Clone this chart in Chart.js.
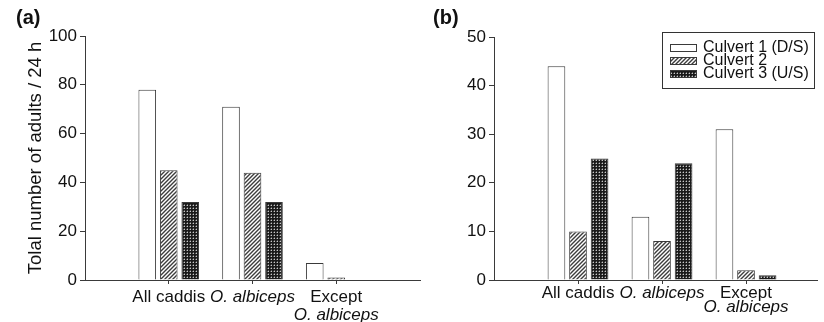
<!DOCTYPE html>
<html>
<head>
<meta charset="utf-8">
<script src="https://cdn.jsdelivr.net/npm/chart.js@4/dist/chart.umd.min.js"></script>
<style>
  html, body { margin: 0; padding: 0; background: #fff; }
  #wrap { position: relative; width: 824px; height: 322px; }
  #pa { position: absolute; left: 0; top: 0; width: 424px; height: 322px; }
  #pb { position: absolute; left: 424px; top: 0; width: 400px; height: 322px; }
</style>
</head>
<body>
<div id="wrap">
  <div id="pa"><canvas id="ca" width="424" height="322"></canvas></div>
  <div id="pb"><canvas id="cb" width="400" height="322"></canvas></div>
</div>
<script>
// ---------- data ----------
const categoryLabels = [['All caddis'], ['O. albiceps'], ['Except', 'O. albiceps']];
const italicTerms = ['O. albiceps'];
const categoryPositions = [1, 2, 3];
const seriesNames = ['Culvert 1 (D/S)', 'Culvert 2', 'Culvert 3 (U/S)'];

const panelA_culvert1 = [78, 71, 7];
const panelA_culvert2 = [45, 44, 1];
const panelA_culvert3 = [32, 32, 0];

const panelB_culvert1 = [44, 13, 31];
const panelB_culvert2 = [10, 8, 2];
const panelB_culvert3 = [25, 24, 1];

const panelA_yTicks = [0, 20, 40, 60, 80, 100];
const panelB_yTicks = [0, 10, 20, 30, 40, 50];
const yTitle = 'Tolal number of adults / 24 h';

// ---------- styles ----------
const FONT = "'Liberation Sans', Arial, sans-serif";
const AXIS = '#3a3a3a';

function hatchPattern() {
  const c = document.createElement('canvas');
  c.width = 4; c.height = 4;
  const g = c.getContext('2d');
  g.fillStyle = '#ffffff'; g.fillRect(0, 0, 4, 4);
  g.strokeStyle = '#3c3c3c'; g.lineWidth = 1.4;
  g.beginPath();
  g.moveTo(-1, 5); g.lineTo(5, -1);
  g.moveTo(-1, 1); g.lineTo(1, -1);
  g.moveTo(3, 5); g.lineTo(5, 3);
  g.stroke();
  return g.createPattern(c, 'repeat');
}
function dotPattern() {
  const c = document.createElement('canvas');
  c.width = 3; c.height = 3;
  const g = c.getContext('2d');
  g.fillStyle = '#1a1a1a'; g.fillRect(0, 0, 3, 3);
  g.fillStyle = '#c8c8c8';
  g.fillRect(1, 1, 1, 1);
  g.fillStyle = '#5a5a5a';
  g.fillRect(0, 1, 1, 1);
  g.fillRect(1, 0, 1, 1);
  return g.createPattern(c, 'repeat');
}
const fills = ['#ffffff', hatchPattern(), dotPattern()];

function makeDatasets(series) {
  return series.map((vals, k) => ({
    label: seriesNames[k],
    data: vals.map((v, i) => ({ x: categoryPositions[i], y: v })),
    backgroundColor: fills[k],
    borderColor: '#3a3a3a',
    borderWidth: 1,
    borderSkipped: 'bottom',
    categoryPercentage: 0.77,
    barPercentage: 0.82
  }));
}

const categoryLabelPlugin = {
  id: 'catLabels',
  afterDraw(chart, args, opts) {
    const ctx = chart.ctx;
    const xs = chart.scales.x;
    ctx.save();
    ctx.fillStyle = '#111';
    ctx.textAlign = 'center';
    ctx.textBaseline = 'alphabetic';
    categoryLabels.forEach((lines, i) => {
      const px = xs.getPixelForValue(categoryPositions[i]);
      lines.forEach((t, j) => {
        const it = italicTerms.includes(t);
        ctx.font = (it ? 'italic ' : '') + '17px ' + FONT;
        ctx.fillText(t, px, chart.chartArea.bottom + opts.firstBaseline + j * opts.lineGap);
      });
    });
    ctx.restore();
  }
};

const panelTagPlugin = {
  id: 'panelTag',
  afterDraw(chart, args, opts) {
    const ctx = chart.ctx;
    ctx.save();
    ctx.font = 'bold 20px ' + FONT;
    ctx.fillStyle = '#111';
    ctx.textBaseline = 'middle';
    ctx.textAlign = 'left';
    ctx.fillText(opts.text, opts.x, opts.y);
    ctx.restore();
  }
};

const boxLegendPlugin = {
  id: 'boxLegend',
  afterDraw(chart, args, opts) {
    if (!opts.show) return;
    const ctx = chart.ctx;
    const ca = chart.chartArea;
    const w = 152, h = 56;
    const x0 = ca.right - 3 - w, y0 = ca.top - 5;
    ctx.save();
    ctx.strokeStyle = '#333';
    ctx.lineWidth = 1;
    ctx.strokeRect(x0 + 0.5, y0 + 0.5, w, h);
    ctx.font = '16px ' + FONT;
    ctx.textBaseline = 'middle';
    ctx.textAlign = 'left';
    chart.data.datasets.forEach((ds, k) => {
      const cy = y0 + 16 + k * 13;
      ctx.fillStyle = ds.backgroundColor;
      ctx.fillRect(x0 + 8, cy - 3.5, 27, 7);
      ctx.strokeStyle = '#3a3a3a';
      ctx.strokeRect(x0 + 8.5, cy - 3.5, 26, 7);
      ctx.fillStyle = '#111';
      ctx.fillText(ds.label, x0 + 41, cy);
    });
    ctx.restore();
  }
};

function makeChart(id, series, yMax, yTickArr, xMax, axisWidth, pad, withTitle, tag, legend, labelOpts) {
  return new Chart(document.getElementById(id), {
    type: 'bar',
    data: { datasets: makeDatasets(series) },
    options: {
      responsive: false,
      animation: false,
      devicePixelRatio: 1,
      layout: { padding: pad },
      plugins: {
        legend: { display: false },
        tooltip: { enabled: false },
        catLabels: labelOpts,
        panelTag: tag,
        boxLegend: { show: legend }
      },
      scales: {
        x: {
          type: 'linear',
          offset: false,
          min: 0,
          max: xMax,
          afterBuildTicks: s => { s.ticks = categoryPositions.map(v => ({ value: v })); },
          afterFit: s => { s.height = 42; },
          ticks: { display: true, callback: () => '', padding: 0 },
          grid: { display: true, offset: false, drawOnChartArea: false, drawTicks: true, tickLength: 4, tickColor: AXIS, color: AXIS },
          border: { display: true, color: AXIS, width: 1 }
        },
        y: {
          min: 0,
          max: yMax,
          afterBuildTicks: s => { s.ticks = yTickArr.map(v => ({ value: v })); },
          afterFit: s => { s.width = axisWidth; },
          ticks: { color: '#111', font: { family: FONT, size: 17 }, padding: 3 },
          grid: { display: true, drawOnChartArea: false, drawTicks: true, tickLength: 5, tickColor: AXIS, color: AXIS },
          border: { display: true, color: AXIS, width: 1 },
          title: {
            display: withTitle,
            text: yTitle,
            color: '#111',
            font: { family: FONT, size: 18.5 },
            padding: { top: 25, bottom: 0 }
          }
        }
      }
    },
    plugins: [categoryLabelPlugin, panelTagPlugin, boxLegendPlugin]
  });
}

makeChart('ca', [panelA_culvert1, panelA_culvert2, panelA_culvert3], 100, panelA_yTicks,
  4, 85, { left: 0, right: 4, top: 36, bottom: 0 }, true,
  { text: '(a)', x: 16, y: 18 }, false, { firstBaseline: 22, lineGap: 18 });

makeChart('cb', [panelB_culvert1, panelB_culvert2, panelB_culvert3], 50, panelB_yTicks,
  3.845, 70, { left: 0, right: 7, top: 37, bottom: 0 }, false,
  { text: '(b)', x: 9, y: 18 }, true, { firstBaseline: 18, lineGap: 14 });
</script>
</body>
</html>
